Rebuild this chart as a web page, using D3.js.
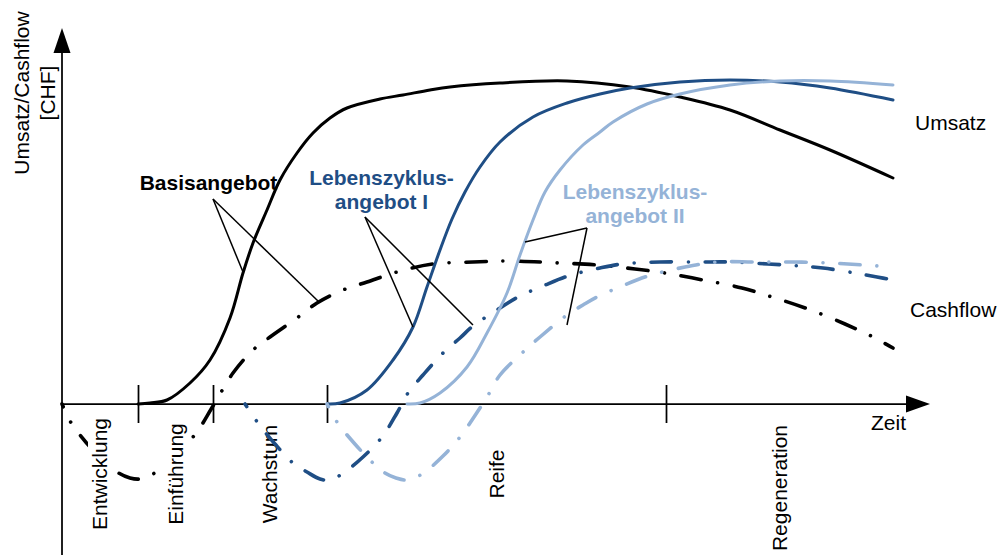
<!DOCTYPE html>
<html><head><meta charset="utf-8">
<script src="https://cdn.jsdelivr.net/npm/d3@7"></script>
<style>body{margin:0;background:#fff}svg{display:block;font-family:"Liberation Sans",Arial,sans-serif}</style>
</head><body><svg id="c" width="997" height="555"></svg>
<script>
// ---- data (time units on x, CHF units on y) ----
const phases = ["Entwicklung", "Einführung", "Wachstum", "Reife", "Regeneration"];
const phaseBounds = [0, 7.6, 15.1, 26.5, 60.4, 83.1];

const umsatzBasis = [[7.6,0],[8.8,0.25],[10.5,1],[12.8,5.25],[14.8,11],[16.8,21.5],[18.1,32.75],[19.1,40.25],[20.5,48.5],[21.8,56],[23.5,62.75],[25.1,67.75],[26.8,71.5],[28.5,74],[31.8,76.25],[34.1,77.25],[36.8,78.5],[38.8,79.25],[43.8,80.25],[50.5,80.75],[56.8,79.25],[61.8,76.75],[66.8,73.5],[71.8,68.5],[76.8,63.5],[83.1,56.5]];
const umsatzLZ1 = [[26.5,0],[27.8,0.25],[30.5,3.5],[33.1,11],[35.1,19.25],[36.5,29.25],[37.8,38.5],[39.0,46.25],[40.3,53],[41.8,59.25],[43.8,65.5],[47.1,71.75],[50.5,75.25],[53.8,77.5],[56.8,79],[61.8,80.5],[66.8,81],[71.8,80.5],[76.8,79],[83.1,76]];
const umsatzLZ2 = [[34.5,0],[35.8,0.25],[37.8,2.75],[40.5,9.25],[42.5,17.75],[44.5,27.75],[45.8,37.25],[47.1,46],[48.3,53],[49.8,58.5],[52.1,64.75],[53.8,68],[55.1,70.5],[58.5,75],[61.8,77.5],[66.8,79.75],[71.8,80.75],[76.8,80.75],[83.1,79.75]];

const cashBasis = [[0,0],[0.8,-4.25],[1.8,-7.75],[3.0,-11.25],[5.5,-17],[6.8,-18.5],[7.8,-18.75],[9.1,-17.5],[13.1,-8.25],[15.1,-0.5],[17.1,7.75],[19.1,13.5],[20.8,16.75],[23.5,21.5],[25.5,25.25],[28.1,28.5],[30.5,30.5],[33.5,33],[37.1,35],[41.1,35.5],[44.8,35.75],[49.8,35.25],[53.5,34.75],[57.3,33.75],[60.3,32.75],[64.1,31],[68.0,29],[71.0,26.75],[74.6,23.75],[78.3,20],[81.1,16.75],[83.1,14]];
const cashLZ1 = [[18.3,0],[19.6,-4.75],[21.3,-10],[23.1,-14.75],[24.5,-17],[25.8,-18.75],[26.8,-19],[28.0,-17.5],[30.1,-13.25],[32.0,-8.25],[33.5,-2.25],[34.6,2.75],[36.1,7.25],[38.1,12.75],[39.8,16.5],[41.1,19.5],[43.2,23],[45.6,26.75],[48.1,29.5],[50.6,32],[53.8,34],[56.0,35],[59.8,35.5],[63.8,35.5],[66.8,35.5],[70.6,35],[73.8,34.5],[76.1,34],[79.3,32.75],[81.5,31.75],[83.1,31]];
const cashLZ2 = [[26.5,0],[27.5,-4.5],[29.2,-9.75],[31.1,-14.75],[32.3,-17.25],[33.4,-18.5],[34.5,-19],[36.0,-17.5],[38.1,-13],[39.8,-8.25],[41.4,-2.5],[42.5,1.75],[43.8,7.25],[46.0,12.75],[47.8,16.75],[50.5,22.25],[52.1,24.75],[53.5,26.75],[56.0,29.5],[58.6,32],[62.3,34.25],[65.5,35.5],[69.3,35.5],[73.1,35.5],[76.8,35.25],[80.1,34.75],[83.1,34.25]];

const offerNames = ["Basisangebot", "Lebenszyklus-angebot I", "Lebenszyklus-angebot II"];
// callout: apex and two ends (data units)
const callouts = [
  {apex:[15.1,51.25], ends:[[18.1,33],[25.7,25.5]]},
  {apex:[30.3,46.75], ends:[[35.1,19.25],[41.1,19.75]]},
  {apex:[52.5,44], ends:[[46.3,40.5],[50.5,19.75]]}
];

// ---- layout ----
const colors = ["#000000", "#1F4E85", "#95B3D7"];
const svg = d3.select("#c");
const x = d3.scaleLinear().domain([0, 86.8]).range([62, 930]);
const y = d3.scaleLinear().domain([0, 94]).range([404, 28]);
const line = d3.line().x(d => x(d[0])).y(d => y(d[1])).curve(d3.curveCatmullRom.alpha(0.5));
const FS = 21;

function drawUmsatz(data, col) {
  svg.append("path").attr("d", line(data)).attr("fill","none").attr("stroke", col)
    .attr("stroke-width", 3).attr("stroke-linecap","round");
}
function drawCash(data, col) {
  svg.append("path").attr("d", line(data)).attr("fill","none").attr("stroke", col)
    .attr("stroke-width", 3.6).attr("stroke-linecap","round")
    .attr("stroke-dasharray","20.5,16.75,0.01,16.75").attr("stroke-dashoffset", 17.25);
}

// black curves first
drawUmsatz(umsatzBasis, colors[0]);
drawCash(cashBasis, colors[0]);

// axes
const axG = svg.append("g").attr("transform", `translate(0,${y(0)})`)
  .call(d3.axisBottom(x).tickValues(phaseBounds.slice(1,5)).tickSizeInner(19).tickSizeOuter(0).tickFormat(""));
axG.select(".domain").remove();
axG.selectAll(".tick line").attr("y1", -19).attr("stroke","#000").attr("stroke-width",1.75);
svg.append("line").attr("x1", x(0)).attr("x2", x(84.4)).attr("y1", y(0)).attr("y2", y(0))
  .attr("stroke","#000").attr("stroke-width",1.75);
svg.append("line").attr("x1", x(0)).attr("x2", x(0)).attr("y1", 555).attr("y2", y(87.75))
  .attr("stroke","#000").attr("stroke-width",1.75);
svg.append("polygon").attr("points", [[x(0), y(94)], [x(0)-8.5, y(87.75)], [x(0)+8.5, y(87.75)]].join(" ")).attr("fill","#000");
svg.append("polygon").attr("points", [[x(86.8), y(0)], [x(84.4), y(0)-8.5], [x(84.4), y(0)+8.5]].join(" ")).attr("fill","#000");

// phase labels (with white background)
const labelCY = [474, 474, 474, 474, 488];
phases.forEach((p, i) => {
  const mid = (x(phaseBounds[i]) + x(phaseBounds[i+1])) / 2;
  const g = svg.append("g").attr("transform", `translate(${mid + 7},${labelCY[i]}) rotate(-90)`);
  const t = g.append("text").attr("text-anchor","middle").attr("font-size", FS).attr("fill","#000").text(p);
  const b = t.node().getBBox();
  g.insert("rect","text").attr("x", b.x - 2).attr("y", b.y).attr("width", b.width + 4).attr("height", b.height).attr("fill","#fff");
});

// blue curves
drawUmsatz(umsatzLZ1, colors[1]);
drawCash(cashLZ1, colors[1]);
drawUmsatz(umsatzLZ2, colors[2]);
drawCash(cashLZ2, colors[2]);

// callouts
callouts.forEach(c => {
  c.ends.forEach(e => {
    svg.append("line").attr("x1", x(c.apex[0])).attr("y1", y(c.apex[1]))
      .attr("x2", x(e[0])).attr("y2", y(e[1])).attr("stroke","#000").attr("stroke-width",1.5);
  });
});

// offer labels
const offerPos = [[208.5, [190]], [381.5, [185, 209]], [635, [199, 223]]];
offerNames.forEach((n, i) => {
  const parts = n.indexOf("-") > 0 ? [n.slice(0, n.indexOf("-")+1), n.slice(n.indexOf("-")+1)] : [n];
  parts.forEach((s, j) => {
    svg.append("text").attr("x", offerPos[i][0]).attr("y", offerPos[i][1][j]).attr("text-anchor","middle")
      .attr("font-size", FS).attr("font-weight","bold").attr("fill", colors[i]).text(s);
  });
});

// series labels
svg.append("text").attr("x", 915).attr("y", 130).attr("font-size", FS).attr("fill","#000").text("Umsatz");
svg.append("text").attr("x", 910).attr("y", 317).attr("font-size", FS).attr("fill","#000").text("Cashflow");
svg.append("text").attr("x", 906).attr("y", 430).attr("text-anchor","end").attr("font-size", FS).attr("fill","#000").text("Zeit");

// y axis title
const yt = svg.append("g").attr("transform", "translate(29,93) rotate(-90)");
yt.append("text").attr("text-anchor","middle").attr("font-size", FS).attr("y", 0).text("Umsatz/Cashflow");
yt.append("text").attr("text-anchor","middle").attr("font-size", FS).attr("y", 26).text("[CHF]");
</script></body></html>
